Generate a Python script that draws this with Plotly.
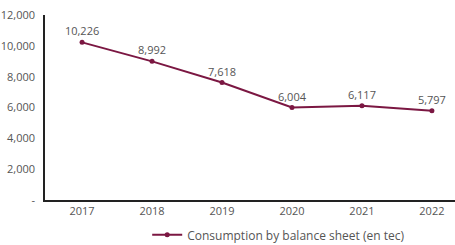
import plotly.graph_objects as go

years = ["2017", "2018", "2019", "2020", "2021", "2022"]
consumption = [10226, 8992, 7618, 6004, 6117, 5797]
series_name = "Consumption by balance sheet (en tec)"
y_tickvals = [0, 2000, 4000, 6000, 8000, 10000, 12000]
y_ticktext = ["-", "2,000", "4,000", "6,000", "8,000", "10,000", "12,000"]

color = "#7B1742"
font_fam = "'Open Sans', sans-serif"

fig = go.Figure()
fig.add_trace(go.Scatter(
    x=years, y=consumption, mode="lines+markers+text",
    name=series_name,
    line=dict(color=color, width=2),
    marker=dict(color=color, size=5),
    text=[f"{v:,}" for v in consumption],
    textposition="top center",
    textfont=dict(color="#555555", size=11, family=font_fam),
    cliponaxis=False,
))

fig.update_layout(
    width=455, height=245,
    margin=dict(l=45, r=0, t=15, b=45, autoexpand=False),
    paper_bgcolor="white", plot_bgcolor="white",
    font=dict(family=font_fam, size=11, color="#555555"),
    showlegend=True,
    legend=dict(orientation="h", x=0.57, xanchor="center",
                y=-0.11, yanchor="top", itemwidth=30,
                bgcolor="rgba(0,0,0,0)",
                font=dict(size=12, color="#555555")),
    xaxis=dict(type="category", range=[-0.53, 5.33], showgrid=False,
               showline=True, linecolor="#222222", linewidth=1.5,
               ticks="", tickfont=dict(size=11, color="#555555"),
               automargin=False),
    yaxis=dict(range=[0, 12000], tickvals=y_tickvals, ticktext=y_ticktext,
               showgrid=False, zeroline=False, showline=True,
               linecolor="#222222", linewidth=1.5, ticks="",
               ticklabelstandoff=6, automargin=False,
               tickfont=dict(size=11, color="#555555")),
)

fig.write_html("out.html", config={"displayModeBar": False},
               post_script="document.body.style.margin='0';")
